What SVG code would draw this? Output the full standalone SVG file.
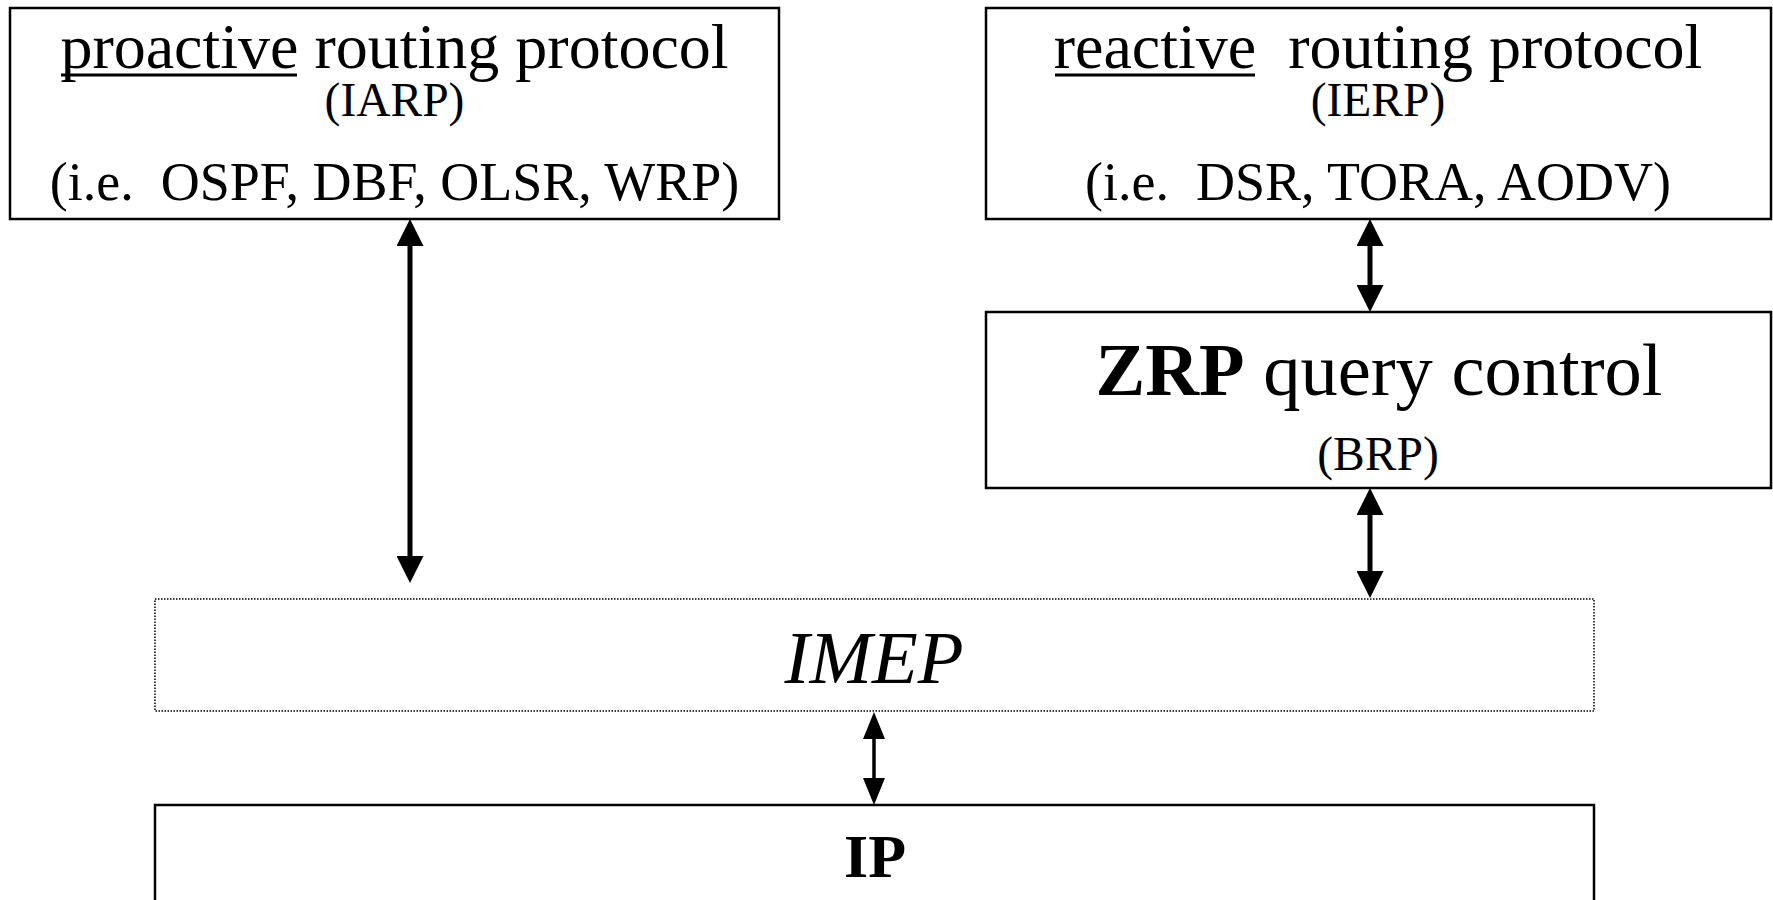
<svg xmlns="http://www.w3.org/2000/svg" width="1773" height="900" viewBox="0 0 1773 900">
<style>
.box{fill:#fff;stroke:#000;stroke-width:2.5}
.dot{fill:#fff;stroke:#000;stroke-width:1.5;stroke-dasharray:1.5 1.5}
text{font-family:"Liberation Serif","Times New Roman",serif;fill:#000;text-anchor:middle}
.big{font-size:64px}
.mid{font-size:47.5px}
.ex{font-size:54px}
.ul{stroke:#000;stroke-width:3}
.conn{stroke:#000;fill:none}
</style>
<defs>
<marker id="ah" markerUnits="userSpaceOnUse" markerWidth="27" markerHeight="27" viewBox="0 0 27 27" refX="7" refY="13.5" orient="auto-start-reverse">
<path d="M0,0 L27,13.5 L0,27 z" fill="#000"/>
</marker>
<marker id="ahs" markerUnits="userSpaceOnUse" markerWidth="27" markerHeight="22" viewBox="0 0 27 22" refX="7" refY="11" orient="auto-start-reverse">
<path d="M0,0 L27,11 L0,22 z" fill="#000"/>
</marker>
</defs>
<rect width="1773" height="900" fill="#fff"/>
<g id="proactive">
<rect class="box" x="10" y="8" width="769" height="211"/>
<text class="big" x="394.5" y="68">proactive routing protocol</text>
<line class="ul" x1="61" y1="75" x2="297" y2="75"/>
<text class="mid" x="394.5" y="116">(IARP)</text>
<text class="ex" x="394.5" y="200" xml:space="preserve">(i.e.  OSPF, DBF, OLSR, WRP)</text>
</g>
<g id="reactive">
<rect class="box" x="986" y="8" width="785" height="211"/>
<text class="big" x="1378" y="68" xml:space="preserve">reactive  routing protocol</text>
<line class="ul" x1="1055" y1="75" x2="1255" y2="75"/>
<text class="mid" x="1378" y="116">(IERP)</text>
<text class="ex" x="1378" y="200" xml:space="preserve">(i.e.  DSR, TORA, AODV)</text>
</g>
<g id="zrp">
<rect class="box" x="986" y="312" width="785" height="176"/>
<text x="1379" y="395" font-size="74.5"><tspan font-weight="bold">ZRP</tspan> query control</text>
<text class="mid" x="1378" y="470">(BRP)</text>
</g>
<g id="imep">
<rect class="dot" x="155" y="599" width="1439" height="112"/>
<text x="874" y="683" font-size="75" font-style="italic">IMEP</text>
</g>
<g id="ip">
<rect class="box" x="155" y="805" width="1439" height="130"/>
<text x="875" y="877" font-size="62" font-weight="bold">IP</text>
</g>
<g id="connectors">
<line class="conn" stroke-width="5" x1="410" y1="239" x2="410" y2="563" marker-start="url(#ah)" marker-end="url(#ah)"/>
<line class="conn" stroke-width="5" x1="1370" y1="239" x2="1370" y2="292" marker-start="url(#ah)" marker-end="url(#ah)"/>
<line class="conn" stroke-width="5" x1="1370" y1="508" x2="1370" y2="578" marker-start="url(#ah)" marker-end="url(#ah)"/>
<line class="conn" stroke-width="3.5" x1="874" y1="732" x2="874" y2="785" marker-start="url(#ahs)" marker-end="url(#ahs)"/>
</g>
</svg>
